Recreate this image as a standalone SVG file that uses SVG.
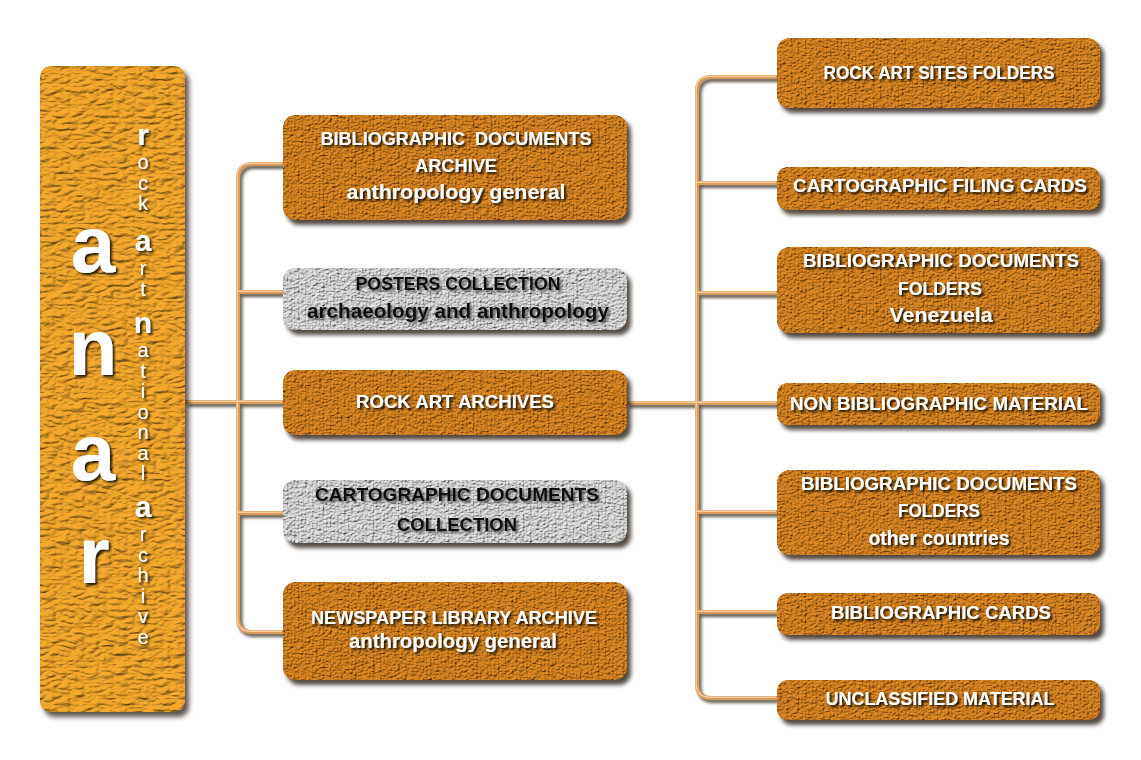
<svg xmlns="http://www.w3.org/2000/svg" width="1141" height="760" viewBox="0 0 1141 760">
<defs>
<filter id="tex" x="-4%" y="-8%" width="112%" height="130%" color-interpolation-filters="sRGB">
<feTurbulence type="turbulence" baseFrequency="0.28 0.5" numOctaves="2" seed="5" result="n"/>
<feDiffuseLighting in="n" surfaceScale="1.8" diffuseConstant="1.05" lighting-color="#ffffff" result="l"><feDistantLight azimuth="235" elevation="60"/></feDiffuseLighting>
<feComposite in="SourceGraphic" in2="l" operator="arithmetic" k1="1.12" k2="0" k3="0" k4="0" result="t"/>
<feComposite in="t" in2="SourceAlpha" operator="in" result="t2"/>
<feGaussianBlur in="SourceAlpha" stdDeviation="2" result="b"/>
<feOffset in="b" dx="4" dy="5" result="o"/>
<feFlood flood-color="#1a1005" flood-opacity="0.75"/>
<feComposite in2="o" operator="in" result="s"/>
<feMerge><feMergeNode in="s"/><feMergeNode in="t2"/></feMerge>
</filter>
<filter id="tex2" x="-6%" y="-2%" width="115%" height="105%" color-interpolation-filters="sRGB">
<feTurbulence type="turbulence" baseFrequency="0.07 0.16" numOctaves="2" seed="11" result="n"/>
<feDiffuseLighting in="n" surfaceScale="2" diffuseConstant="1.05" lighting-color="#ffffff" result="l"><feDistantLight azimuth="235" elevation="65"/></feDiffuseLighting>
<feComposite in="SourceGraphic" in2="l" operator="arithmetic" k1="1.1" k2="0" k3="0" k4="0" result="t"/>
<feComposite in="t" in2="SourceAlpha" operator="in" result="t2"/>
<feGaussianBlur in="SourceAlpha" stdDeviation="2.5" result="b"/>
<feOffset in="b" dx="4" dy="5" result="o"/>
<feFlood flood-color="#1a1005" flood-opacity="0.7"/>
<feComposite in2="o" operator="in" result="s"/>
<feMerge><feMergeNode in="s"/><feMergeNode in="t2"/></feMerge>
</filter>
<filter id="ts" x="-10%" y="-30%" width="120%" height="160%">
<feDropShadow dx="2" dy="2" stdDeviation="1.2" flood-color="#000" flood-opacity="0.85"/>
</filter>
<filter id="tsv" x="-50%" y="-5%" width="200%" height="110%">
<feDropShadow dx="2" dy="2" stdDeviation="1.2" flood-color="#000" flood-opacity="0.8"/>
</filter>
<filter id="tsg" x="-10%" y="-30%" width="120%" height="160%">
<feDropShadow dx="2" dy="2" stdDeviation="1.2" flood-color="#444" flood-opacity="0.8"/>
</filter>
<filter id="ls" x="-5%" y="-5%" width="110%" height="110%">
<feGaussianBlur stdDeviation="1.5"/>
</filter>
</defs>
<style>
.org{fill:#c97a1f;}
.gry{fill:#c9c9c9;}
.big{fill:#e09a2a;}
.lbl{font-family:"Liberation Sans",Arial,sans-serif;font-weight:bold;font-size:18px;text-anchor:middle;fill:#ffffff;}
.dk{fill:#111111;}
.sh{fill:none;stroke:#1e1408;stroke-width:4;opacity:0.7;}
.ln{fill:none;stroke:#d99a5c;stroke-width:4;}
.hl{fill:none;stroke:#f6cfa0;stroke-width:1.4;}
.bigl{font-family:"Liberation Sans",Arial,sans-serif;font-weight:bold;font-size:80px;text-anchor:middle;fill:#ffffff;}
.col{font-family:"Liberation Sans",Arial,sans-serif;font-size:20px;fill:#ffffff;writing-mode:vertical-rl;text-orientation:upright;letter-spacing:-1.5px;}
.colb{font-size:30px;font-weight:bold;letter-spacing:0px;}
</style>
<rect width="1141" height="760" fill="#ffffff"/>

<g id="connectors">
<g filter="url(#ls)" transform="translate(2.5,3)">
<path class="sh" d="M185,402 H283 M283,164 H252 Q238,164 238,178 V618 Q238,632 252,632 H283 M238,292 H283 M238,513 H283"/>
<path class="sh" d="M627,403 H777 M777,77 H711 Q697,77 697,91 V684 Q697,698 711,698 H777 M697,183 H777 M697,293 H777 M697,512 H777 M697,612 H777"/>
</g>
<path class="ln" d="M185,402 H283 M283,164 H252 Q238,164 238,178 V618 Q238,632 252,632 H283 M238,292 H283 M238,513 H283"/>
<path class="ln" d="M627,403 H777 M777,77 H711 Q697,77 697,91 V684 Q697,698 711,698 H777 M697,183 H777 M697,293 H777 M697,512 H777 M697,612 H777"/>
<g transform="translate(-0.8,-0.8)">
<path class="hl" d="M185,402 H283 M283,164 H252 Q238,164 238,178 V618 Q238,632 252,632 H283 M238,292 H283 M238,513 H283"/>
<path class="hl" d="M627,403 H777 M777,77 H711 Q697,77 697,91 V684 Q697,698 711,698 H777 M697,183 H777 M697,293 H777 M697,512 H777 M697,612 H777"/>
</g>
</g>

<g id="anar">
<rect class="big" x="40" y="66" width="145" height="646" rx="10" filter="url(#tex2)"/>
<g filter="url(#ts)">
<text class="bigl" x="93" y="272">a</text>
<text class="bigl" x="93" y="375">n</text>
<text class="bigl" x="93" y="480">a</text>
<text class="bigl" x="94" y="583">r</text>
</g>
<g filter="url(#tsv)">
<text class="col" x="143" y="118"><tspan class="colb">r</tspan>ock</text>
<text class="col" x="143" y="224"><tspan class="colb">a</tspan>rt</text>
<text class="col" x="143" y="306"><tspan class="colb">n</tspan>ational</text>
<text class="col" x="143" y="490"><tspan class="colb">a</tspan>rchive</text>
</g>
</g>

<g id="bib-docs-archive">
<rect class="org" x="283" y="115" width="344" height="105" rx="12" filter="url(#tex)"/>
<g filter="url(#ts)">
<text class="lbl" x="456" y="145" textLength="271" lengthAdjust="spacingAndGlyphs" xml:space="preserve">BIBLIOGRAPHIC  DOCUMENTS</text>
<text class="lbl" x="456" y="172" textLength="82" lengthAdjust="spacingAndGlyphs">ARCHIVE</text>
<text class="lbl" x="456" y="199" textLength="219" lengthAdjust="spacingAndGlyphs" style="font-size:20px">anthropology general</text>
</g>
</g>

<g id="posters">
<rect class="gry" x="283" y="268" width="344" height="62" rx="12" filter="url(#tex)"/>
<g filter="url(#tsg)">
<text class="lbl dk" x="458" y="290" textLength="205" lengthAdjust="spacingAndGlyphs">POSTERS COLLECTION</text>
<text class="lbl dk" x="458" y="318" textLength="302" lengthAdjust="spacingAndGlyphs" style="font-size:20px">archaeology and anthropology</text>
</g>
</g>

<g id="rock-art-archives">
<rect class="org" x="283" y="370" width="344" height="65" rx="12" filter="url(#tex)"/>
<g filter="url(#ts)">
<text class="lbl" x="455" y="408" textLength="198" lengthAdjust="spacingAndGlyphs">ROCK ART ARCHIVES</text>
</g>
</g>

<g id="cartographic-docs">
<rect class="gry" x="283" y="480" width="344" height="63" rx="12" filter="url(#tex)"/>
<g filter="url(#tsg)">
<text class="lbl dk" x="457" y="501" textLength="284" lengthAdjust="spacingAndGlyphs">CARTOGRAPHIC DOCUMENTS</text>
<text class="lbl dk" x="457" y="531" textLength="120" lengthAdjust="spacingAndGlyphs">COLLECTION</text>
</g>
</g>

<g id="newspaper">
<rect class="org" x="283" y="582" width="344" height="98" rx="12" filter="url(#tex)"/>
<g filter="url(#ts)">
<text class="lbl" x="454" y="624" textLength="286" lengthAdjust="spacingAndGlyphs">NEWSPAPER LIBRARY ARCHIVE</text>
<text class="lbl" x="453" y="648" textLength="208" lengthAdjust="spacingAndGlyphs" style="font-size:20px">anthropology general</text>
</g>
</g>

<g id="rock-art-sites-folders">
<rect class="org" x="777" y="38" width="323" height="70" rx="12" filter="url(#tex)"/>
<g filter="url(#ts)"><text class="lbl" x="939" y="79" textLength="231" lengthAdjust="spacingAndGlyphs">ROCK ART SITES FOLDERS</text></g>
</g>

<g id="cartographic-filing-cards">
<rect class="org" x="777" y="167" width="323" height="43" rx="10" filter="url(#tex)"/>
<g filter="url(#ts)"><text class="lbl" x="940" y="192" textLength="294" lengthAdjust="spacingAndGlyphs">CARTOGRAPHIC FILING CARDS</text></g>
</g>

<g id="bib-docs-folders-venezuela">
<rect class="org" x="777" y="247" width="323" height="86" rx="12" filter="url(#tex)"/>
<g filter="url(#ts)">
<text class="lbl" x="941" y="267" textLength="276" lengthAdjust="spacingAndGlyphs">BIBLIOGRAPHIC DOCUMENTS</text>
<text class="lbl" x="940" y="295" textLength="84" lengthAdjust="spacingAndGlyphs">FOLDERS</text>
<text class="lbl" x="941" y="322" textLength="103" lengthAdjust="spacingAndGlyphs" style="font-size:20px">Venezuela</text>
</g>
</g>

<g id="non-bibliographic-material">
<rect class="org" x="777" y="383" width="323" height="42" rx="10" filter="url(#tex)"/>
<g filter="url(#ts)"><text class="lbl" x="939" y="410" textLength="298" lengthAdjust="spacingAndGlyphs">NON BIBLIOGRAPHIC MATERIAL</text></g>
</g>

<g id="bib-docs-folders-other">
<rect class="org" x="777" y="470" width="323" height="85" rx="12" filter="url(#tex)"/>
<g filter="url(#ts)">
<text class="lbl" x="939" y="490" textLength="276" lengthAdjust="spacingAndGlyphs">BIBLIOGRAPHIC DOCUMENTS</text>
<text class="lbl" x="939" y="517" textLength="82" lengthAdjust="spacingAndGlyphs">FOLDERS</text>
<text class="lbl" x="939" y="545" textLength="141" lengthAdjust="spacingAndGlyphs" style="font-size:20px">other countries</text>
</g>
</g>

<g id="bibliographic-cards">
<rect class="org" x="777" y="593" width="323" height="42" rx="10" filter="url(#tex)"/>
<g filter="url(#ts)"><text class="lbl" x="941" y="619" textLength="220" lengthAdjust="spacingAndGlyphs">BIBLIOGRAPHIC CARDS</text></g>
</g>

<g id="unclassified-material">
<rect class="org" x="777" y="680" width="323" height="40" rx="10" filter="url(#tex)"/>
<g filter="url(#ts)"><text class="lbl" x="940" y="705" textLength="229" lengthAdjust="spacingAndGlyphs">UNCLASSIFIED MATERIAL</text></g>
</g>
</svg>
